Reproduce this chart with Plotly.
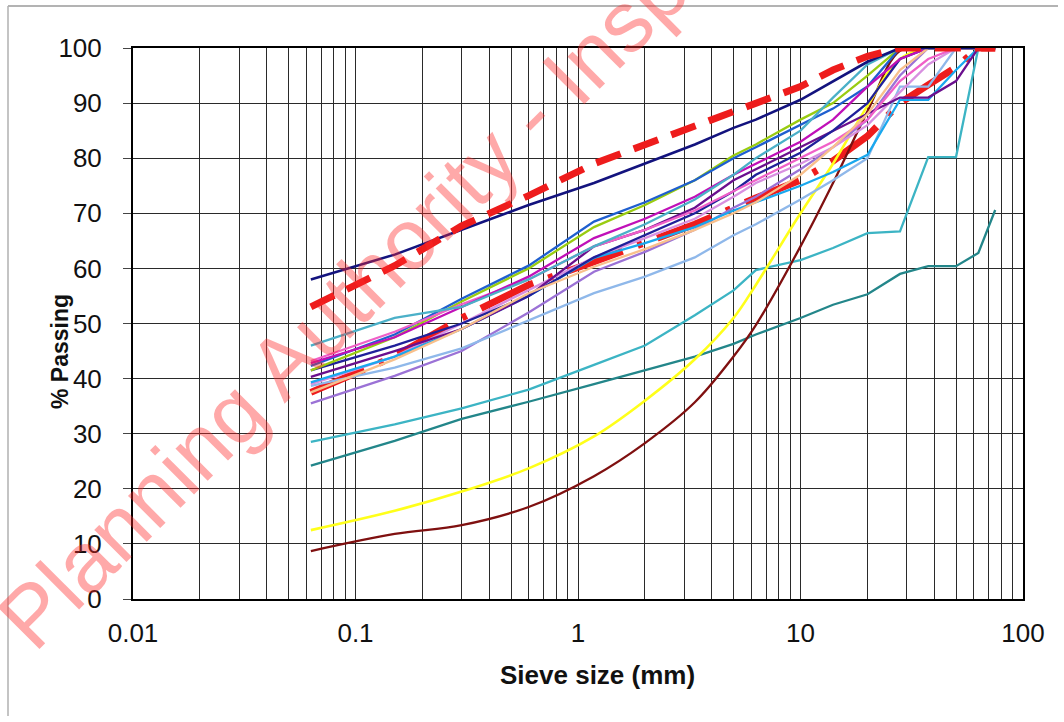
import plotly.graph_objects as go

# Sieve sizes (mm)
SIEVE = [0.063, 0.15, 0.3, 0.6, 1.18, 2, 3.35, 5, 6.3, 10, 14, 20, 28, 37.5, 50, 63, 75]

# % passing per sample
upper_env = [53, 60.5, 67.7, 73.2, 79, 82.5, 85.9, 88.5, 90, 93, 96, 98.5, 100, 100, 100, 100, 100]
lower_env = [37.5, 44, 51, 57, 61.2, 64.5, 68, 71, 72.8, 76, 79.5, 84, 90, 93.3, 96.5, 100, 100]
navy      = [58, 62.5, 67, 71.5, 75.5, 79, 82.5, 85.5, 87, 90.6, 94, 97.5, 100, 100, 100, 100, 100]
cyan      = [46, 51, 53, 58, 64, 68, 72.5, 77, 80, 85, 91, 97, 100, 100, 100, 100, 100]
magenta   = [42.8, 47.5, 53, 58.5, 65.5, 69, 73, 77, 79, 83, 87, 93, 98, 100, 100, 100, 100]
pink      = [43.2, 48.5, 53.5, 58, 64, 67, 70.5, 74, 76, 80, 83, 87, 94, 98, 100, 100, 100]
royal     = [42.3, 48, 54.5, 60.5, 68.5, 72, 76, 80, 82, 86, 89, 93, 100, 100, 100, 100, 100]
green     = [41.5, 47.5, 54, 60, 67.5, 71.5, 76, 80.5, 82.5, 87, 90, 95, 100, 100, 100, 100, 100]
darkblue  = [41.5, 46, 50, 55, 62, 66, 70, 74, 77, 81, 85, 90, 98, 100, 100, 100, 100]
purple    = [40.3, 45, 49, 55, 64, 67, 71, 76, 78, 82, 85, 88, 91, 91, 94, 100, 100]
skyblue   = [39.3, 44, 49, 55, 61.9, 64.6, 67.5, 70.5, 72, 75, 77.5, 80.6, 90.6, 90.6, 96, 100, 100]
plum      = [39, 44, 50, 56, 62, 65.5, 69, 73, 75.5, 79, 82, 86, 92, 97, 100, 100, 100]
lightblue = [38.7, 42, 45.5, 50.5, 55.5, 58.5, 62, 66, 68, 72.5, 76, 80, 93, 93, 100, 100, 100]
orange    = [37.5, 43.5, 49, 55.5, 60.3, 63.5, 67, 70, 72, 77, 82, 88, 96, 100, 100, 100, 100]
lavender  = [35.5, 40.5, 45, 52, 59.4, 63, 67, 71, 73, 78, 82, 87, 95, 100, 100, 100, 100]
yellow    = [12.5, 16, 19.5, 23.7, 29.5, 36, 43.5, 51, 57, 70, 79, 89.5, 98, 100, 100, 100, 100]
maroon    = [8.7, 11.8, 13.4, 16.7, 22.3, 28.3, 35.7, 44, 49.7, 64, 75.5, 88.5, 99.5, 100, 100, 100, 100]
turquoise = [28.5, 31.7, 34.6, 38, 42.5, 46, 51.5, 56, 59.7, 61.5, 63.7, 66.4, 66.7, 80.2, 80.2, 100, 100]
darkteal  = [24.2, 28.7, 32.7, 35.8, 39, 41.5, 44, 46.3, 48, 51, 53.4, 55.3, 59, 60.4, 60.4, 62.8, 70.6]

X_TICKS = [0.01, 0.1, 1, 10, 100]
X_TICK_TEXT = ["0.01", "0.1", "1", "10", "100"]
Y_TICKS = list(range(0, 101, 10))

fig = go.Figure()

def add(y, color, width=2.3, dash=None, shape="linear"):
    line = dict(color=color, width=width, shape=shape)
    if dash:
        line["dash"] = dash
    fig.add_trace(go.Scatter(x=SIEVE, y=y, mode="lines", line=line,
                             showlegend=False, hoverinfo="skip"))

add(lower_env, "#ee1c1c", width=7, dash="58px,16px,5px,16px")
add(darkteal, "#23868a")
add(turquoise, "#3cb4c4")
add(maroon, "#7f1010", shape="spline")
add(yellow, "#ffff1a", width=2.6, shape="spline")
add(lavender, "#9b72d6")
add(lightblue, "#8fb8ea")
add(plum, "#d890e0")
add(skyblue, "#1aa8ee")
add(purple, "#6a0f8e")
add(darkblue, "#20209a")
add(green, "#99cc11")
add(royal, "#1f5fcf")
add(pink, "#f060c8")
add(magenta, "#c010b8")
add(cyan, "#4bb0c8")
add(orange, "#f8c08c")
add(navy, "#13137e", width=2.6)
add(upper_env, "#ee1c1c", width=7, dash="26px,14px")

grid = "#2a2a2a"
fig.update_xaxes(
    type="log", range=[-2, 2], automargin=False,
    tickvals=X_TICKS, ticktext=X_TICK_TEXT,
    showgrid=True, gridcolor=grid, gridwidth=1,
    minor=dict(dtick="D1", showgrid=True, gridcolor=grid, gridwidth=1),
    showline=True, linecolor="black", linewidth=2, mirror=True,
    ticks="", ticklabelstandoff=10,
    tickfont=dict(size=26, color="#111"),
    zeroline=False,
)
fig.update_yaxes(
    range=[0, 100], tickvals=Y_TICKS, automargin=False,
    showgrid=True, gridcolor=grid, gridwidth=1,
    showline=True, linecolor="black", linewidth=2, mirror=True,
    ticks="outside", ticklen=8, tickcolor="#444", ticklabelstandoff=16,
    tickfont=dict(size=26, color="#111"),
    zeroline=False,
)

PW, PH, L, T = 890, 551, 133, 48

def px(xp):
    return (xp - L) / PW

def py(yp):
    return (T + PH - yp) / PH

fig.update_layout(
    width=1064, height=722,
    margin=dict(l=L, r=41, t=T, b=123),
    paper_bgcolor="white", plot_bgcolor="white",
    font=dict(family="Liberation Sans, Arial, sans-serif"),
    shapes=[
        dict(type="line", xref="paper", yref="paper",
             x0=px(8), x1=px(1058), y0=py(6), y1=py(6),
             line=dict(color="#9a9a9a", width=1.5)),
        dict(type="line", xref="paper", yref="paper",
             x0=px(8), x1=px(8), y0=py(6), y1=py(716),
             line=dict(color="#b0b0b0", width=1.5)),
    ],
    annotations=[
        dict(text="<b>% Passing</b>", xref="paper", yref="paper",
             x=px(60), y=py(352), xanchor="center", yanchor="middle",
             textangle=-90, showarrow=False,
             font=dict(size=23, color="#111")),
        dict(text="<b>Sieve size (mm)</b>", xref="paper", yref="paper",
             x=px(597), y=py(675), xanchor="center", yanchor="middle",
             showarrow=False, font=dict(size=26, color="#111")),
        dict(text="Planning Authority - Inspection", xref="paper", yref="paper",
             x=px(424), y=py(222),
             xanchor="center", yanchor="middle", textangle=-45, showarrow=False,
             font=dict(size=86, color="rgba(255,40,40,0.40)",
                       family="Liberation Sans, Arial, sans-serif")),
    ],
)

fig.write_html("out.html", config={"displayModeBar": False},
               post_script="document.body.style.margin='0';document.body.style.overflow='hidden';")
